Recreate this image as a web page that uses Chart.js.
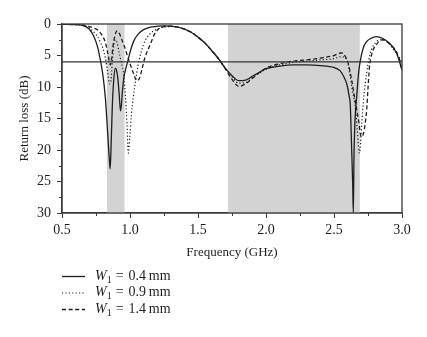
<!DOCTYPE html>
<html>
<head>
<meta charset="utf-8">
<script src="https://cdn.jsdelivr.net/npm/chart.js@4/dist/chart.umd.min.js"></script>
<style>
  html, body { margin: 0; padding: 0; background: #fff; }
  #wrap { position: relative; width: 427px; height: 337px; }
</style>
</head>
<body>
<div id="wrap"><canvas id="c" width="427" height="337"></canvas></div>
<script>
// Return loss of the antenna for three strip widths W1
const freq04 = [0.5,0.6,0.65,0.7,0.73,0.76,0.78,0.80,0.82,0.835,0.848,0.854,0.86,0.87,0.88,0.892,0.9,0.91,0.92,0.93,0.936,0.945,0.955,0.97,0.985,1.0,1.03,1.06,1.1,1.15,1.2,1.25,1.3,1.35,1.4,1.45,1.5,1.55,1.6,1.65,1.7,1.75,1.8,1.85,1.9,1.95,2.0,2.1,2.2,2.3,2.4,2.5,2.544,2.575,2.595,2.61,2.62,2.63,2.637,2.642,2.647,2.654,2.667,2.68,2.69,2.715,2.74,2.77,2.81,2.86,2.91,2.96,3.0];
const loss04 = [0.05,0.1,0.2,0.8,1.8,3.5,5.5,8,12,17,21.5,23,20,13,9,7,7.3,8.5,11,13.8,13,10.5,8.5,7,5.8,4.5,2.6,1.6,0.9,0.5,0.35,0.3,0.35,0.5,0.8,1.3,2.1,3.0,4.2,5.5,7.0,8.2,9.0,8.9,8.3,7.7,7.1,6.7,6.5,6.5,6.6,6.9,7.4,8.5,9.6,11.3,13,20,25,30,21,15.5,11.5,8,6.3,3.8,2.8,2.3,2.0,2.3,3.1,4.6,7.3];

const freq09 = [0.5,0.6,0.65,0.7,0.73,0.755,0.78,0.80,0.82,0.835,0.85,0.86,0.87,0.88,0.893,0.905,0.92,0.935,0.95,0.965,0.978,0.988,0.998,1.01,1.025,1.04,1.06,1.085,1.11,1.15,1.2,1.25,1.3,1.35,1.4,1.45,1.5,1.55,1.6,1.65,1.7,1.75,1.8,1.85,1.9,2.0,2.1,2.2,2.3,2.4,2.5,2.55,2.58,2.6,2.618,2.635,2.654,2.67,2.68,2.687,2.695,2.705,2.715,2.74,2.765,2.8,2.85,2.9,2.935,2.97,3.0];
const loss09 = [0.05,0.1,0.2,0.6,1.2,1.8,2.8,3.8,5.5,7.5,9.5,9,6,3.5,2.5,3,4.5,6,7.5,11,16,20.5,18,14.5,11.5,9.2,6.5,4.2,2.7,1.5,0.8,0.5,0.4,0.5,0.8,1.3,2.1,3.0,4.2,5.5,7.0,8.4,9.4,9.3,8.5,7.2,6.5,6.1,5.9,5.7,5.5,5.2,5.3,6.0,8.2,10.5,12.8,16.5,19.5,20.5,19,15.5,12.5,7.8,4.8,3.1,2.5,3.0,4.0,5.0,6.2];

const freq14 = [0.5,0.6,0.65,0.7,0.74,0.77,0.8,0.82,0.84,0.855,0.865,0.875,0.89,0.905,0.92,0.94,0.96,0.98,1.0,1.025,1.05,1.07,1.09,1.11,1.13,1.15,1.18,1.21,1.25,1.3,1.35,1.4,1.45,1.5,1.55,1.6,1.65,1.7,1.75,1.8,1.85,1.9,2.0,2.1,2.2,2.3,2.4,2.5,2.55,2.57,2.59,2.605,2.63,2.654,2.68,2.70,2.715,2.728,2.74,2.75,2.76,2.777,2.81,2.86,2.9,2.95,2.98,3.0];
const loss14 = [0.05,0.1,0.15,0.4,0.7,1.1,2,3,5,6.5,5.5,3.5,1.8,1.1,1.4,2.5,3.6,5,6.3,7.8,9.0,8.6,7,5.3,4.2,3.2,1.6,0.8,0.4,0.35,0.5,0.8,1.3,2.1,3.0,4.2,5.5,7.1,8.8,9.9,9.5,8.6,7.0,6.3,5.9,5.7,5.4,5.0,4.6,4.7,5.5,6.3,8.9,12,15.2,17.9,17.5,16,13.7,10.2,7,4.8,3.3,2.5,3.0,4.1,5.5,7.3];

const widthLabels = ['0.4', '0.9', '1.4'];
const lineDashes = [[], [1.2, 2.2], [4, 2.6]];
const bandRanges = [[0.83, 0.96], [1.72, 2.69]];
const thresholdDb = 6;
const freqRange = [0.5, 3.0];
const lossRange = [0, 30];

const ink = '#1e1e1e';
const frameColor = '#3a3a3a';
const serif = '"Liberation Serif", "Times New Roman", serif';

const toPoints = (xs, ys) => xs.map((x, i) => ({ x, y: ys[i] }));

const curveSets = [[freq04, loss04], [freq09, loss09], [freq14, loss14]];
const curves = curveSets.map(([xs, ys], i) => ({
  label: widthLabels[i],
  data: toPoints(xs, ys),
  borderColor: ink,
  borderWidth: i === 1 ? 1.2 : 1.3,
  borderDash: lineDashes[i],
  pointRadius: 0,
  cubicInterpolationMode: 'monotone',
  fill: false,
  isCurve: true
}));

const thresholdLine = {
  label: 'threshold',
  data: [{ x: freqRange[0], y: thresholdDb }, { x: freqRange[1], y: thresholdDb }],
  borderColor: '#333',
  borderWidth: 1.2,
  pointRadius: 0,
  fill: false
};

// shaded operating bands behind the curves
const bandShade = {
  id: 'bandShade',
  beforeDatasetsDraw(chart) {
    const { ctx, chartArea: a, scales: { x } } = chart;
    ctx.save();
    ctx.fillStyle = '#d3d3d3';
    bandRanges.forEach(([f0, f1]) => {
      const p0 = x.getPixelForValue(f0), p1 = x.getPixelForValue(f1);
      ctx.fillRect(p0, a.top, p1 - p0, a.bottom - a.top);
    });
    ctx.restore();
  }
};

// closed frame plus minor ticks
const frameAndMinor = {
  id: 'frameAndMinor',
  afterDraw(chart) {
    const { ctx, chartArea: a, scales: { x, y } } = chart;
    ctx.save();
    ctx.strokeStyle = frameColor;
    ctx.lineWidth = 1.3;
    ctx.strokeRect(a.left, a.top, a.right - a.left, a.bottom - a.top);
    ctx.lineWidth = 1;
    ctx.beginPath();
    for (let f = 0.75; f < freqRange[1]; f += 0.5) {
      const px = Math.round(x.getPixelForValue(f)) + 0.5;
      ctx.moveTo(px, a.bottom); ctx.lineTo(px, a.bottom + 3);
    }
    for (let d = 2.5; d < lossRange[1]; d += 5) {
      const py = Math.round(y.getPixelForValue(d)) + 0.5;
      ctx.moveTo(a.left, py); ctx.lineTo(a.left - 3, py);
    }
    ctx.stroke();
    ctx.restore();
  }
};

// key below the plot: line sample + "W1 = ... mm"
const widthKey = {
  id: 'widthKey',
  afterDraw(chart) {
    const { ctx, chartArea: a } = chart;
    const rowY = [276, 292.5, 309];
    ctx.save();
    ctx.textBaseline = 'middle';
    ctx.fillStyle = ink;
    chart.data.datasets.filter(d => d.isCurve).forEach((ds, i) => {
      const y = rowY[i];
      ctx.strokeStyle = ds.borderColor;
      ctx.lineWidth = ds.borderWidth;
      ctx.setLineDash(ds.borderDash);
      ctx.beginPath();
      ctx.moveTo(a.left, y + 0.5);
      ctx.lineTo(a.left + 23, y + 0.5);
      ctx.stroke();
      ctx.setLineDash([]);
      let tx = a.left + 33;
      ctx.font = 'italic 14px ' + serif;
      ctx.fillText('W', tx, y);
      tx += ctx.measureText('W').width;
      ctx.font = '10px ' + serif;
      ctx.fillText('1', tx, y + 4);
      tx += ctx.measureText('1').width + 4;
      ctx.font = '14px ' + serif;
      ctx.fillText('=', tx, y);
      tx += ctx.measureText('=').width + 5;
      ctx.fillText(ds.label + '\u2009mm', tx, y);
    });
    ctx.restore();
  }
};

new Chart(document.getElementById('c'), {
  type: 'line',
  data: { datasets: [thresholdLine, ...curves] },
  options: {
    responsive: false,
    animation: false,
    devicePixelRatio: 1,
    layout: { padding: { left: 0, right: 25, top: 24, bottom: 74 } },
    plugins: { legend: { display: false }, tooltip: { enabled: false } },
    scales: {
      x: {
        type: 'linear',
        min: freqRange[0], max: freqRange[1],
        afterFit: s => { s.height = 50; },
        ticks: {
          stepSize: 0.5,
          callback: v => v.toFixed(1),
          font: { family: serif, size: 14 },
          color: ink,
          padding: 4,
          maxRotation: 0
        },
        grid: { drawOnChartArea: false, tickLength: 5, color: frameColor, tickWidth: 1 },
        border: { color: frameColor, width: 1.3 },
        title: {
          display: true,
          text: 'Frequency (GHz)',
          font: { family: serif, size: 13 },
          color: ink,
          padding: { top: 0, bottom: 3 }
        }
      },
      y: {
        type: 'linear',
        reverse: true,
        min: lossRange[0], max: lossRange[1],
        afterFit: s => { s.width = 62; },
        ticks: {
          stepSize: 5,
          font: { family: serif, size: 14 },
          color: ink,
          padding: 6
        },
        grid: { drawOnChartArea: false, tickLength: 5, color: frameColor, tickWidth: 1 },
        border: { color: frameColor, width: 1.3 },
        title: {
          display: true,
          text: 'Return loss (dB)',
          font: { family: serif, size: 13 },
          color: ink,
          padding: { top: 17, bottom: 0 }
        }
      }
    }
  },
  plugins: [bandShade, frameAndMinor, widthKey]
});
</script>
</body>
</html>
